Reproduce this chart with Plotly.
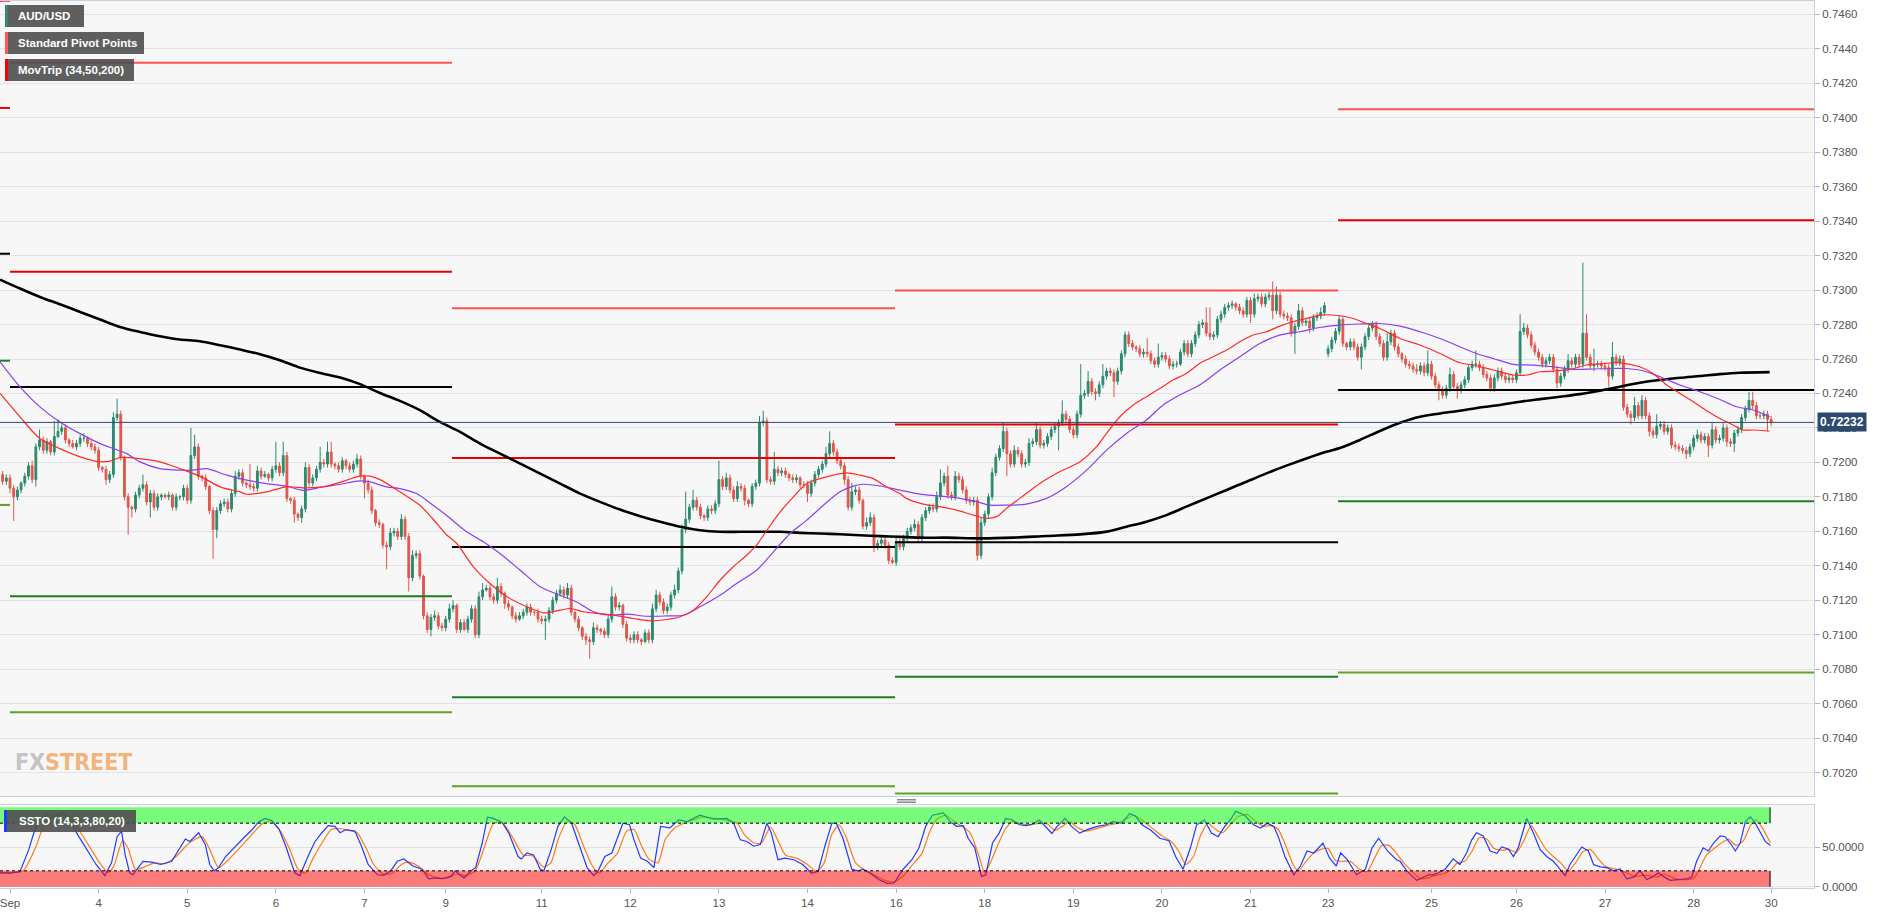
import plotly.graph_objects as go

# ---------------- DATA ----------------
PRICE_BASE = 0.7          # prices below are pips above 0.7000
PIP = 0.0001
FIRST_INDEX = -2          # hour index of first candle (0 = Mon 3 Sep 00:00)
FIRST_OPEN = 193
GAP_OPENS = {357: 263}

CLOSE = [
    189, 191,
    185, 180, 184, 188, 192, 198, 190, 209, 213, 207, 212, 206, 215, 218, 220, 213, 211, 209, 211, 214, 214, 211, 209, 207,
    197, 196, 190, 193, 226, 228, 203, 180, 174, 173, 181, 185, 187, 177, 182, 174, 180, 181, 180, 181, 174, 180, 180, 185,
    178, 204, 209, 192, 191, 186, 172, 161, 172, 176, 177, 173, 182, 192, 194, 188, 187, 186, 185, 195, 192, 193, 191, 196,
    198, 194, 204, 179, 178, 170, 168, 173, 197, 188, 191, 196, 200, 199, 206, 199, 198, 196, 201, 198, 196, 199, 202, 192,
    188, 184, 172, 165, 164, 152, 151, 159, 160, 157, 167, 157, 133, 146, 147, 134, 111, 103, 110, 111, 105, 104, 109, 115,
    117, 103, 107, 103, 109, 115, 100, 122, 126, 127, 122, 120, 128, 124, 118, 116, 111, 109, 111, 113, 116, 113, 113, 109,
    108, 109, 114, 120, 124, 126, 123, 127, 113, 109, 104, 99, 97, 96, 104, 103, 102, 100, 109, 122, 116, 117, 106, 98,
    97, 100, 97, 96, 101, 97, 115, 123, 119, 114, 116, 123, 126, 137, 161, 167, 174, 178, 174, 169, 168, 173, 172, 176,
    190, 186, 191, 184, 179, 186, 185, 178, 176, 186, 188, 223, 224, 190, 189, 196, 194, 195, 193, 191, 190, 191, 187, 187,
    182, 188, 193, 196, 199, 205, 211, 206, 201, 198, 190, 174, 183, 184, 178, 163, 165, 168, 151, 153, 155, 152, 143, 142,
    154, 151, 156, 160, 162, 164, 156, 168, 172, 174, 173, 180, 188, 192, 181, 180, 192, 190, 184, 178, 177, 178, 146, 165,
    170, 180, 194, 203, 208, 218, 205, 199, 207, 205, 199, 200, 211, 212, 219, 210, 211, 215, 219, 221, 223, 228, 225, 219,
    216, 228, 239, 240, 247, 241, 240, 245, 250, 253, 252, 247, 253, 263, 274, 269, 267, 266, 263, 264, 263, 259, 257, 261,
    262, 260, 256, 257, 257, 264, 269, 263, 269, 274, 280, 281, 275, 273, 274, 283, 286, 290, 291, 292, 290, 288, 286, 294,
    286, 295, 296, 292, 296, 297, 288, 297, 286, 285, 284, 275, 279, 288, 281, 282, 278, 284, 285, 287, 291, 266, 271, 276,
    283, 269, 267, 270, 267, 261, 267, 273, 278, 280, 273, 269, 261, 270, 275, 267, 263, 260, 257, 256, 254, 253, 256, 252,
    257, 250, 245, 242, 239, 243, 251, 244, 242, 245, 248, 255, 257, 257, 255, 251, 249, 243, 249, 253, 250, 248, 249, 248,
    252, 276, 278, 274, 268, 264, 261, 257, 259, 261, 254, 246, 250, 254, 259, 257, 261, 257, 275, 261, 256, 257, 257, 256,
    255, 250, 261, 258, 260, 232, 228, 226, 233, 227, 236, 227, 218, 216, 221, 222, 218, 220, 210, 209, 208, 207, 205, 209,
    214, 216, 213, 215, 210, 219, 213, 214, 220, 212, 211, 217, 219, 226, 231, 236, 233, 227, 227, 228, 225, 223,
]

UPPER_WICK = [
    2, 2,
    2, 2, 2, 1, 2, 2, 3, 2, 6, 2, 2, 1, 9, 7, 2, 2, 1, 2, 2, 2, 3, 1, 2, 2,
    2, 1, 2, 2, 3, 9, 2, 1, 2, 1, 2, 2, 6, 2, 2, 2, 2, 1, 1, 2, 1, 2, 1, 2,
    2, 16, 7, 2, 1, 2, 1, 2, 2, 2, 2, 2, 2, 3, 2, 2, 1, 12, 2, 3, 2, 2, 1, 2,
    14, 2, 8, 2, 1, 2, 1, 2, 3, 2, 2, 2, 9, 2, 6, 6, 1, 2, 2, 1, 2, 2, 3, 2,
    1, 2, 2, 1, 2, 1, 2, 3, 2, 2, 3, 2, 2, 3, 2, 2, 1, 2, 2, 3, 2, 2, 2, 3,
    3, 1, 2, 2, 2, 2, 2, 3, 4, 2, 2, 2, 5, 2, 1, 2, 1, 2, 2, 2, 2, 2, 1, 2,
    2, 2, 2, 2, 2, 3, 2, 3, 2, 1, 2, 1, 2, 2, 3, 2, 1, 2, 2, 6, 2, 2, 1, 2,
    2, 2, 2, 1, 2, 2, 3, 3, 2, 2, 2, 2, 3, 2, 3, 16, 2, 6, 2, 2, 1, 2, 2, 2,
    11, 2, 3, 2, 2, 3, 2, 2, 1, 2, 2, 4, 6, 2, 2, 10, 2, 2, 2, 1, 2, 2, 1, 2,
    2, 2, 2, 2, 2, 4, 7, 2, 2, 1, 2, 2, 5, 2, 2, 1, 3, 3, 2, 2, 2, 2, 2, 2,
    3, 2, 2, 2, 2, 3, 2, 2, 2, 2, 2, 3, 8, 2, 6, 2, 3, 2, 2, 2, 2, 2, 2, 3,
    2, 2, 3, 2, 2, 5, 2, 2, 3, 2, 2, 2, 3, 2, 4, 2, 2, 2, 2, 2, 2, 8, 2, 2,
    2, 2, 18, 2, 6, 2, 2, 2, 7, 2, 2, 2, 2, 2, 2, 2, 2, 1, 2, 2, 8, 2, 2, 8,
    2, 2, 2, 2, 2, 2, 2, 2, 2, 2, 2, 2, 9, 15, 2, 2, 2, 2, 2, 2, 1, 2, 2, 2,
    2, 3, 2, 2, 2, 2, 8, 5, 2, 2, 2, 2, 2, 4, 2, 2, 2, 2, 2, 3, 2, 2, 2, 2,
    2, 2, 1, 2, 2, 2, 2, 2, 2, 2, 2, 2, 2, 5, 2, 2, 2, 1, 2, 2, 2, 3, 2, 2,
    8, 2, 2, 2, 2, 2, 4, 2, 2, 2, 2, 2, 2, 8, 2, 2, 2, 2, 2, 2, 2, 2, 2, 2,
    2, 10, 3, 2, 2, 2, 2, 2, 2, 2, 2, 2, 2, 2, 4, 2, 2, 2, 41, 11, 2, 9, 2, 2,
    2, 2, 9, 2, 2, 2, 2, 2, 5, 2, 3, 2, 2, 2, 7, 2, 2, 2, 2, 2, 2, 2, 2, 2,
    2, 3, 2, 2, 2, 4, 2, 2, 3, 2, 2, 2, 2, 2, 2, 5, 5, 2, 2, 2, 2, 2,
]

LOWER_WICK = [
    2, 2,
    3, 14, 2, 2, 2, 2, 2, 4, 2, 2, 2, 2, 2, 1, 2, 2, 2, 1, 2, 2, 2, 2, 2, 2,
    2, 2, 3, 2, 2, 2, 2, 2, 16, 5, 2, 2, 2, 2, 9, 2, 2, 2, 1, 2, 2, 2, 2, 2,
    2, 2, 2, 2, 2, 2, 2, 17, 5, 2, 2, 2, 2, 2, 2, 2, 2, 2, 2, 2, 2, 1, 2, 2,
    2, 2, 2, 2, 2, 5, 2, 3, 2, 2, 2, 2, 2, 2, 2, 2, 2, 2, 2, 2, 2, 2, 2, 2,
    9, 2, 2, 2, 2, 2, 13, 2, 2, 2, 2, 2, 8, 2, 2, 2, 2, 2, 4, 2, 2, 2, 2, 2,
    2, 2, 2, 1, 2, 2, 2, 2, 2, 1, 2, 2, 2, 2, 3, 2, 2, 2, 1, 2, 2, 2, 2, 2,
    2, 11, 2, 2, 2, 2, 2, 2, 2, 2, 2, 2, 3, 10, 2, 2, 2, 2, 2, 2, 2, 2, 2, 2,
    2, 2, 2, 2, 1, 2, 2, 2, 2, 2, 2, 2, 2, 2, 2, 2, 2, 2, 2, 2, 2, 2, 2, 2,
    2, 2, 2, 2, 2, 2, 2, 3, 2, 2, 2, 2, 2, 2, 2, 2, 2, 2, 2, 2, 2, 2, 2, 2,
    5, 2, 2, 2, 2, 2, 2, 2, 2, 2, 3, 2, 2, 2, 2, 2, 2, 2, 3, 2, 2, 2, 2, 1,
    2, 2, 2, 2, 2, 2, 2, 2, 2, 2, 2, 2, 2, 2, 2, 2, 2, 2, 2, 2, 2, 2, 3, 2,
    2, 2, 2, 2, 2, 2, 13, 2, 2, 2, 2, 2, 2, 2, 2, 2, 2, 2, 2, 2, 14, 2, 2, 2,
    2, 2, 2, 2, 2, 2, 4, 2, 2, 2, 2, 9, 2, 2, 2, 2, 2, 2, 2, 2, 2, 2, 2, 2,
    2, 2, 2, 2, 2, 1, 2, 2, 2, 2, 2, 2, 2, 2, 2, 2, 2, 2, 2, 2, 2, 2, 2, 2,
    5, 2, 2, 2, 2, 2, 5, 2, 2, 2, 2, 2, 12, 2, 2, 2, 3, 2, 2, 2, 2, 2, 2, 2,
    2, 2, 2, 2, 2, 2, 7, 2, 2, 2, 2, 2, 2, 2, 2, 2, 2, 2, 2, 2, 2, 2, 2, 2,
    2, 2, 2, 6, 2, 2, 2, 2, 5, 2, 2, 2, 2, 2, 2, 2, 2, 2, 2, 2, 2, 2, 2, 2,
    2, 2, 2, 2, 2, 2, 2, 2, 2, 2, 2, 3, 2, 2, 2, 2, 2, 2, 2, 2, 2, 3, 2, 2,
    2, 6, 2, 2, 2, 2, 2, 4, 2, 2, 2, 2, 3, 2, 2, 2, 2, 2, 2, 2, 2, 2, 3, 2,
    2, 2, 2, 2, 7, 2, 2, 2, 2, 3, 2, 5, 2, 2, 2, 2, 2, 2, 2, 2, 7, 2,
]

LAST_PRICE = 0.72232

# Moving averages (hour index, pips above 0.7000)
MA34 = [(-2.7, 240), (2.7, 226.4), (8.1, 213.8), (13.5, 208), (19, 203.2), (24.4, 200.3), (27.1, 200.7), (29.8, 202.8),
        (35.2, 202.2), (40.6, 200.3), (46, 196.4), (51.4, 192), (56.9, 185.8), (62.3, 182.9), (64.1, 181.5), (69.5, 182.9),
        (74.9, 185.8), (80.3, 185.2), (85.7, 186.2), (91.2, 189.7), (94.8, 192), (97.5, 192), (100.2, 190), (105.6, 182.9),
        (111, 175.1), (114.6, 167), (118.2, 158), (121, 152.9), (125.5, 139.4), (130, 129.7), (134.6, 122), (140, 116.2),
        (144.5, 112.7), (149, 114.2), (151.7, 115.2), (155.3, 113.3), (158.9, 112.3), (163.4, 111.3), (168.8, 109.4),
        (173.4, 108), (177.9, 108.8), (181.5, 110.4), (185.1, 114.2), (188.7, 122), (192.3, 131.6), (195.9, 139.4),
        (199.5, 146.1), (202.2, 152), (205, 160.6), (208.6, 171.3), (212.2, 180), (215.8, 187.7), (219.4, 190.6),
        (223, 192.6), (226.6, 193.9), (230.2, 192.6), (233.8, 190.6), (237.4, 185.8), (241, 181.9), (242.8, 179.1),
        (247.3, 175.8), (251.8, 174.3), (256.4, 172.3), (260.9, 169.4), (264.5, 167.5), (267.2, 168.5), (269.9, 173.3),
        (273.5, 179.1), (278.9, 187.8), (284.3, 194.6), (289.8, 200.4), (294.3, 209.1), (297, 216.8), (300.6, 226.5),
        (304.2, 233.3), (307.8, 238.1), (311.4, 242.9), (315, 247.8), (318.6, 251.6), (322.2, 257.4), (325.9, 261.3),
        (329.5, 265.2), (333.1, 270), (336.7, 273.9), (340.3, 275.8), (343.9, 279.1), (347.5, 281.6), (351.1, 283.5),
        (354.7, 285.5), (360.2, 285.1), (363.8, 283.5), (367.4, 280.6), (371, 277.7), (376.5, 271.9), (381.9, 268.1),
        (387.3, 263.2), (392.7, 257.8), (396.3, 256.5), (401.7, 253.6), (407.1, 250.7), (410.8, 250.7), (414.4, 252.6),
        (418, 253), (422.5, 254), (427, 256.5), (431.5, 257.4), (436, 257.8), (441.4, 255.5), (445, 251.6), (448.7, 244.9),
        (452.3, 240), (455.9, 235.2), (459.5, 230), (463.1, 225.5), (466.7, 221.7), (469.4, 218.8), (472.1, 218.8),
        (476.6, 218.2)]

MA50 = [(-2.7, 258.3), (2.7, 243.8), (8.1, 232.2), (13.5, 223.5), (19, 216.7), (24.4, 210.9), (28, 208), (31.6, 205.1),
        (35.2, 200.3), (40.6, 196.4), (46, 195.5), (49.6, 195.5), (53.2, 196.4), (58.7, 192.6), (64.1, 189.7), (69.5, 187.7),
        (74.9, 186.2), (79.4, 183.8), (83.9, 185.4), (89.4, 187.3), (94.8, 189.3), (97.5, 188.7), (102, 185.8), (105.6, 184.8),
        (110.1, 181.9), (114.6, 175.1), (118.2, 169.3), (123.7, 159.7), (128.2, 153.9), (132.7, 147.1), (138.2, 137.4),
        (143.6, 127.8), (149, 122.9), (153.5, 119), (158, 113.3), (162.5, 111.3), (167, 111.9), (172.5, 110.7),
        (177.9, 110.9), (182.4, 111.3), (186.9, 116.2), (192.3, 122.9), (196.8, 129.7), (202.2, 137.4), (206.8, 148.1),
        (211.3, 158.7), (215.8, 166.5), (220.3, 175.1), (224.8, 182.9), (228.4, 186.2), (231.1, 187.3), (235.6, 186.3),
        (241, 183.9), (246.4, 181.6), (251.8, 180.5), (257.3, 179.1), (261.8, 177.2), (265.4, 175.2), (269.9, 175.2),
        (275.3, 175.8), (280.7, 179.1), (286.1, 185.9), (291.6, 195.5), (297, 207.1), (302.4, 216.8), (307.8, 224.6),
        (312.3, 233.3), (316.8, 239.1), (322.2, 244.9), (327.7, 253.6), (333.1, 261.3), (338.5, 269), (343.9, 273.9),
        (349.3, 275.8), (354.7, 278.3), (360.2, 279.7), (365.6, 280.3), (371, 280.6), (376.5, 279.1), (381.9, 275.8),
        (387.3, 271.9), (392.7, 267.1), (397.2, 263.2), (401.7, 260.3), (407.1, 256.9), (412.6, 256.5), (418, 255.5),
        (423.4, 254), (428.8, 254.2), (434.2, 254.5), (437.8, 254.5), (442.3, 253.2), (446.9, 249.7), (452.3, 244.9),
        (457.7, 241), (463.1, 236.5), (467.6, 232.3), (472.1, 230.4), (476.6, 226.5)]

MA200 = [(-2.7, 306.1), (2.7, 300.9), (8.1, 296), (13.5, 291.8), (19, 287.3), (24.4, 282.9), (29.8, 278.6), (35.2, 275.7),
         (40.6, 273.2), (46, 271.3), (51.4, 270.3), (56.9, 268), (62.3, 265.5), (67.7, 262.8), (73.1, 259.3), (78.5, 255),
         (84, 251.9), (89.4, 249.2), (94.8, 245.4), (100.2, 240.3), (105.6, 235.7), (111, 230.3), (116.4, 223.5),
         (121.9, 217.7), (127.3, 210.9), (132.7, 205.1), (138.2, 199.3), (143.6, 193.5), (149, 187.7), (154.4, 181.9),
         (159.8, 177.1), (165.2, 172.6), (170.7, 168.8), (176.1, 165.5), (181.5, 162.6), (186.9, 160.6), (192.3, 159.7),
         (197.7, 159.7), (203.1, 159.7), (208.6, 159.7), (214, 159.1), (219.4, 158.7), (224.8, 158.3), (230.2, 157.7),
         (235.6, 157.2), (241, 156.8), (246.4, 156.3), (253.7, 156.3), (262.7, 155.9), (271.7, 156.3), (280.7, 157.3),
         (289.8, 158.2), (297, 159.8), (302.4, 162.7), (307.8, 165.6), (313.2, 169.4), (318.6, 174.3), (324, 179.1),
         (329.5, 184), (334.9, 188.8), (340.3, 193.6), (345.7, 198.1), (351.1, 202.3), (356.5, 206.2), (360.2, 208.3),
         (365.6, 213), (371, 218.2), (376.5, 223), (381.9, 226.5), (387.3, 228.4), (392.7, 230), (398.1, 231.9),
         (403.5, 233.3), (409, 235.2), (414.4, 236.7), (419.8, 238.1), (425.2, 239.6), (430.6, 241.6), (436, 243.9),
         (441.4, 246.2), (446.9, 247.8), (452.3, 249.1), (457.7, 250.1), (463.1, 251.2), (468.5, 252), (476.6, 252.4)]

# Weekly standard pivot points (segment boundaries in hour index; levels per segment)
PIVOT_BOUNDS = [-2.71, 0, 119.7, 239.7, 359.7, 488.6]
PIVOT_R2 = [0.74678, 0.74320, 0.72895, 0.72998, 0.74050]
PIVOT_R1 = [0.74057, 0.73107, 0.72025, 0.72220, 0.73405]
PIVOT_P = [0.73211, 0.72437, 0.71509, 0.71537, 0.72420]
PIVOT_S1 = [0.72590, 0.71223, 0.70637, 0.70756, 0.71774]
PIVOT_S2 = [0.71753, 0.70550, 0.70121, 0.70078, 0.70781]

# Slow stochastic (14,3,3): %K (blue) and %D (orange)
STOCH_K = [(-2.7, 17.5), (0, 17), (2.7, 19), (5.1, 47), (6.4, 67), (8, 85), (10, 92), (12, 88), (14, 94), (16, 86),
           (18.4, 65), (21, 45), (23.3, 28), (25.7, 14), (27.5, 30), (29, 63), (30.2, 70), (31.2, 40), (32.4, 17.5),
           (33.3, 15), (36, 32), (38.4, 31), (40.8, 28), (43.8, 32), (45.7, 47), (47.5, 60), (48.7, 57), (51.1, 68),
           (52.9, 53), (54.1, 28), (55.3, 20), (56.5, 24), (58.4, 38), (60.2, 47), (63.2, 61), (65.6, 72), (67.4, 82),
           (69.2, 86), (71, 83), (72.9, 72), (74.7, 51), (77.1, 17.5), (78.5, 14), (80.7, 38), (82.5, 56), (84.3, 67),
           (86.2, 77), (88, 76), (89.4, 68), (91, 72), (93.4, 70), (95.2, 51), (97, 28), (99.5, 15), (101.3, 14.5),
           (103.1, 20), (104.9, 32), (106.7, 35), (109.1, 26), (111.6, 22), (113.4, 10), (115.2, 11), (117, 10),
           (119.4, 13), (120.6, 20), (121.8, 15), (123, 11), (124.9, 20), (126.1, 24), (127.9, 55), (129.3, 87.5),
           (130.9, 86), (133.3, 81), (135.1, 67.5), (137.6, 38), (138.5, 35), (140, 42.5), (141.8, 40), (143.6, 22),
           (144.6, 20), (146.6, 47), (148.4, 76), (150.2, 88), (152.1, 80), (153.9, 55), (156.3, 24), (158.1, 14),
           (159.3, 20), (161.1, 38), (163, 42.5), (166, 80), (167.8, 78), (169, 59), (170.8, 36), (172.6, 32),
           (174.4, 24), (176.2, 76), (178.7, 74), (181.1, 84), (183.5, 82), (185.9, 88), (186.9, 90), (190.5, 85),
           (194.1, 86), (196, 80), (197.8, 59), (199.6, 57), (201.4, 51), (203.2, 53), (205, 80), (206.2, 67.5),
           (208, 34), (209.9, 36), (212.3, 34), (214.7, 28), (217.1, 17), (218.9, 19.5), (220.7, 51), (222.6, 80),
           (223.8, 80), (225.6, 61), (228, 22), (229.8, 20), (231, 22), (232.8, 17.5), (235.3, 9), (237.7, 4),
           (239.5, 5), (241.9, 22), (244.3, 34), (246.2, 49), (248, 76), (249.8, 90), (252.8, 93), (254.6, 82),
           (256.4, 76), (258.2, 77), (259.5, 61), (261.3, 49), (263.1, 13), (264.3, 15), (266.1, 55), (267.9, 67.5),
           (269.7, 86), (271.5, 84), (273.4, 78), (275.2, 77), (277, 79), (278.8, 84), (280.2, 77), (282.2, 67),
           (283.6, 76), (285.8, 86), (287.5, 76), (289.7, 67.5), (292.1, 72.5), (294.5, 76), (296.9, 78), (298.7, 82),
           (301.2, 80), (303.2, 92), (304.8, 89), (306.6, 78), (309, 71), (311.4, 61), (313.9, 58), (315.7, 38),
           (317.7, 22), (319.7, 49), (321.4, 78), (323.5, 84), (325.4, 67.5), (327.2, 63), (329, 76), (330.8, 86),
           (332, 95), (334.4, 90), (336.8, 78), (338.7, 74), (340.5, 80), (342.3, 76), (343.5, 63), (345.3, 38),
           (347.7, 15), (349.5, 26), (351.3, 45), (353.1, 42.5), (355.6, 55), (357.4, 36), (359.2, 26), (360.4, 42.5),
           (362.2, 34), (364.7, 15), (367.1, 22), (368.9, 49), (370.7, 61), (373.1, 45), (375.5, 34), (376.5, 32),
           (378.3, 20), (381, 8), (382.8, 12), (384.2, 15), (385.5, 15), (386.9, 17.5), (388.7, 22), (390.9, 35),
           (392.7, 28), (394.5, 42.5), (395.9, 59), (397.2, 68), (399, 64), (400.9, 45), (402.7, 42), (404, 50),
           (405.8, 47.5), (407.2, 38), (408.5, 49), (410.8, 86), (412.6, 67.5), (414.4, 47), (416.2, 38), (418, 32),
           (419.8, 22), (421.2, 14), (422.5, 28), (423.9, 38), (425.7, 50), (427.5, 45), (428.9, 28), (430.7, 25),
           (432.5, 24), (434.3, 20), (436.1, 22.5), (437.9, 10), (439.7, 12), (441.5, 20), (443.3, 9), (444.7, 12),
           (446.5, 17.5), (447.8, 13), (449.6, 8), (451.9, 9), (454.1, 10), (455.5, 12), (456.8, 32), (458.6, 49),
           (460, 45), (461.4, 55), (463.2, 64), (464.5, 63), (465.9, 55), (467.3, 45), (468.6, 55), (470, 82),
           (471.4, 88), (472.7, 80), (474.1, 67.5), (475.4, 57), (476.8, 52)]

STOCH_D = [(-2.7, 18), (3.5, 20), (7, 50), (9, 75), (12, 88), (15, 90), (17, 82), (20, 62), (24, 32), (26.5, 18),
           (28, 25), (30.5, 58), (32, 48), (34, 22), (36.5, 25), (39, 30), (42, 29), (45, 38), (48.5, 55), (52, 63),
           (54, 48), (56.5, 24), (59, 33), (62, 48), (65, 63), (68, 78), (70.5, 83), (73, 72), (75.5, 50), (78, 22),
           (80, 17), (82, 35), (84.5, 55), (87, 72), (89.5, 73), (91.5, 71), (94, 68), (96.5, 48), (98.5, 28),
           (101, 16), (103.5, 17), (106, 28), (108, 31), (110.5, 26), (113.5, 15), (116, 11), (118.5, 11), (121, 16),
           (123.5, 14), (126, 20), (128.5, 50), (131, 80), (133.5, 80), (136, 63), (139, 40), (141.5, 39), (144.5, 25),
           (146.5, 30), (148.5, 60), (151, 83), (153, 78), (155, 55), (157.5, 28), (159.5, 17), (162, 30), (164.5, 42),
           (167, 70), (169, 72), (171, 52), (173, 35), (175.5, 30), (177.5, 60), (180, 74), (182.5, 80), (185, 84),
           (187.5, 88), (191, 86), (195, 83), (197, 80), (199, 65), (201.5, 55), (203.5, 55), (206, 75), (208, 58),
           (210, 40), (213, 36), (216, 28), (218.5, 19), (220.5, 30), (222.5, 65), (224.5, 78), (226.5, 62), (229, 30),
           (231.5, 21), (234, 15), (237, 8), (239.5, 6), (242, 14), (244.5, 28), (247, 42), (249, 68), (251, 85),
           (253.5, 90), (255.5, 83), (257.5, 77), (260, 68), (262, 45), (264, 18), (265.5, 30), (267.5, 52),
           (269.5, 72), (271.5, 82), (274, 79), (276.5, 78), (279, 80), (281, 79), (283, 71), (285, 76), (287, 82),
           (289, 75), (291.5, 70), (295, 74), (298, 78), (300, 80), (302.5, 86), (304.5, 90), (306.5, 84), (309, 75),
           (312, 64), (314.5, 57), (316.5, 45), (318.5, 28), (320.5, 38), (322.5, 65), (324.5, 80), (326.5, 72),
           (328.5, 68), (330.5, 78), (332.5, 88), (335, 91), (337.5, 82), (339.5, 76), (341.5, 77), (343.5, 72),
           (345.5, 52), (347.5, 28), (349, 20), (351, 32), (353, 42), (355, 47), (357, 48), (359, 33), (361, 32),
           (363, 32), (365.5, 22), (367.5, 19), (369.5, 35), (371.5, 52), (373.5, 52), (375.5, 42), (377.5, 30),
           (380, 18), (382, 10), (384, 11), (386, 14), (388, 16), (390, 20), (392, 30), (394, 32), (396, 45),
           (398, 62), (400, 60), (402, 48), (404, 46), (406, 47), (408, 43), (410, 58), (412, 77), (414, 62),
           (416, 47), (418, 38), (420, 30), (422, 20), (424, 30), (426, 44), (428, 47), (430, 36), (432, 26),
           (434, 23), (436, 21), (438, 17), (440, 13), (442, 14), (444, 14), (446, 12), (448, 16), (450, 12),
           (452, 9), (454, 9), (456, 10), (457.5, 22), (459.5, 40), (461.5, 48), (463.5, 55), (465.5, 60),
           (467.5, 52), (469.5, 58), (471.5, 78), (473, 84), (474.5, 75), (476.8, 55)]

STOCH_UPPER, STOCH_LOWER = 80, 20
STOCH_BAND_END = 476.7

XTICK_POS = [0, 24, 48, 72, 96, 118, 144, 168, 192, 216, 240, 264, 288, 312, 336, 357, 385, 408, 432, 456, 477]
XTICK_TEXT = ["Sep", "4", "5", "6", "7", "9", "11", "12", "13", "14", "16", "18", "19", "20", "21", "23",
              "25", "26", "27", "28", "30"]

# ---------------- BUILD ----------------
X_RANGE = [-2.71, 488.6]
Y_RANGE = [0.700637, 0.746778]
OSC_RANGE = [-1.64, 102.9]

def px(v):
    return PRICE_BASE + v * PIP

idx = list(range(FIRST_INDEX, FIRST_INDEX + len(CLOSE)))
opens, highs, lows, closes = [], [], [], []
prev = FIRST_OPEN
for k, i in enumerate(idx):
    o = GAP_OPENS.get(i, prev)
    c = CLOSE[k]
    opens.append(px(o))
    closes.append(px(c))
    highs.append(px(max(o, c) + UPPER_WICK[k]))
    lows.append(px(min(o, c) - LOWER_WICK[k]))
    prev = c

GREEN = "#2b8a6e"
RED = "#e0574b"
FONT = "Liberation Sans, Arial, sans-serif"
BORDER = "#c9d0e0"

fig = go.Figure()

fig.add_trace(go.Candlestick(
    x=idx, open=opens, high=highs, low=lows, close=closes, xaxis="x", yaxis="y",
    increasing=dict(line=dict(color=GREEN, width=1), fillcolor=GREEN),
    decreasing=dict(line=dict(color=RED, width=1), fillcolor=RED),
    whiskerwidth=0, showlegend=False, hoverinfo="skip"))

def seg_trace(levels, color, width=2):
    xs, ys = [], []
    for k, lv in enumerate(levels):
        xs += [PIVOT_BOUNDS[k], PIVOT_BOUNDS[k + 1], None]
        ys += [lv, lv, None]
    return go.Scatter(x=xs, y=ys, mode="lines", line=dict(color=color, width=width),
                      xaxis="x", yaxis="y", showlegend=False, hoverinfo="skip")

fig.add_trace(seg_trace(PIVOT_R2, "#ff5050"))
fig.add_trace(seg_trace(PIVOT_R1, "#e80000"))
fig.add_trace(seg_trace(PIVOT_P, "#000000"))
fig.add_trace(seg_trace(PIVOT_S1, "#1e7d23"))
fig.add_trace(seg_trace(PIVOT_S2, "#5fa31e"))

for data, color, width in [(MA200, "#000000", 2.6), (MA50, "#8a3ff2", 1.2), (MA34, "#ff2a2a", 1.2)]:
    fig.add_trace(go.Scatter(x=[p[0] for p in data], y=[px(p[1]) for p in data], mode="lines",
                             line=dict(color=color, width=width, shape="spline", smoothing=0.8),
                             xaxis="x", yaxis="y", showlegend=False, hoverinfo="skip"))

fig.add_trace(go.Scatter(x=[p[0] for p in STOCH_D], y=[p[1] for p in STOCH_D], mode="lines",
                         line=dict(color="#ff7a1a", width=1.2, shape="spline", smoothing=0.6),
                         xaxis="x2", yaxis="y2", showlegend=False, hoverinfo="skip"))
fig.add_trace(go.Scatter(x=[p[0] for p in STOCH_K], y=[p[1] for p in STOCH_K], mode="lines",
                         line=dict(color="#1f3cff", width=1.2),
                         xaxis="x2", yaxis="y2", showlegend=False, hoverinfo="skip"))

# ------------- layout helpers (pixel -> paper) -------------
PW, PH, TOP = 1814.0, 887.0, 1.0
def pxx(p):
    return p / PW
def pxy(p):
    return (TOP + PH - p) / PH

shapes = []
annotations = []

# stochastic bands
shapes.append(dict(type="rect", xref="x2", yref="y2", x0=X_RANGE[0], x1=STOCH_BAND_END, y0=STOCH_UPPER, y1=100,
                   fillcolor="rgba(0,255,0,0.5)", line=dict(width=0), layer="above"))
shapes.append(dict(type="rect", xref="x2", yref="y2", x0=X_RANGE[0], x1=STOCH_BAND_END, y0=0, y1=STOCH_LOWER,
                   fillcolor="rgba(255,0,0,0.5)", line=dict(width=0), layer="above"))
for lv in (STOCH_UPPER, STOCH_LOWER):
    shapes.append(dict(type="line", xref="x2", yref="y2", x0=X_RANGE[0], x1=STOCH_BAND_END, y0=lv, y1=lv,
                       line=dict(color="#000000", width=1, dash="dot"), layer="above"))
for a, b in ((STOCH_UPPER, 100), (0, STOCH_LOWER)):
    shapes.append(dict(type="line", xref="x2", yref="y2", x0=STOCH_BAND_END, x1=STOCH_BAND_END, y0=a, y1=b,
                       line=dict(color="#000000", width=1), layer="above"))

# current price line
shapes.append(dict(type="line", xref="paper", yref="y", x0=0, x1=1, y0=LAST_PRICE, y1=LAST_PRICE,
                   line=dict(color="#2c4a6e", width=1), layer="above"))
annotations.append(dict(xref="paper", yref="y", x=pxx(1817), y=LAST_PRICE, xanchor="left", yanchor="middle",
                        text="<b>0.72232</b>", showarrow=False, bgcolor="#2c4a6e", borderpad=2,
                        font=dict(family=FONT, size=12, color="white")))

# legend boxes
def label_box(x0, y0, x1, y1, stripe, text, text_x):
    shapes.append(dict(type="rect", xref="paper", yref="paper", x0=pxx(x0), x1=pxx(x1), y0=pxy(y1), y1=pxy(y0),
                       fillcolor="rgba(78,78,78,0.9)", line=dict(width=0), layer="above"))
    shapes.append(dict(type="rect", xref="paper", yref="paper", x0=pxx(x0), x1=pxx(x0 + 3), y0=pxy(y1), y1=pxy(y0),
                       fillcolor=stripe, line=dict(width=0), layer="above"))
    annotations.append(dict(xref="paper", yref="paper", x=pxx(text_x), y=pxy((y0 + y1) / 2), xanchor="left",
                            yanchor="middle", text="<b>%s</b>" % text, showarrow=False,
                            font=dict(family=FONT, size=11.5, color="white")))

label_box(5, 5, 84, 27, "#2e8b6e", "AUD/USD", 16)
label_box(5, 32, 144, 54, "#ff5a5a", "Standard Pivot Points", 16)
label_box(5, 59, 134, 81, "#ff0000", "MovTrip (34,50,200)", 16)
label_box(4, 810, 136, 832, "#1a3cff", "SSTO (14,3,3,80,20)", 17)

# watermark
annotations.append(dict(xref="paper", yref="paper", x=pxx(13), y=pxy(762), xanchor="left", yanchor="middle",
                        text="<b><span style='color:#c4c4c4'>FX</span><span style='color:#f2b47a'>STREET</span></b>",
                        showarrow=False, font=dict(family="DejaVu Sans Condensed, Liberation Sans Narrow, sans-serif",
                                                   size=23)))

# drag handle between panes
for yy in (799.5, 801, 802.5):
    shapes.append(dict(type="line", xref="paper", yref="paper", x0=pxx(897), x1=pxx(916), y0=pxy(yy), y1=pxy(yy),
                       line=dict(color="#888888", width=1)))

tickfont = dict(family=FONT, size=11.5, color="#555555")

fig.update_layout(
    width=1885, height=914, margin=dict(l=0, r=71, t=1, b=26),
    paper_bgcolor="white", plot_bgcolor="#f7f7f7", showlegend=False,
    xaxis=dict(domain=[0, 1], anchor="y", range=X_RANGE, showticklabels=False, showgrid=False, zeroline=False,
               showline=True, mirror=True, linecolor=BORDER, ticks="", rangeslider=dict(visible=False),
               automargin=False),
    yaxis=dict(domain=[pxy(796), 1], anchor="x", range=Y_RANGE, side="right", tick0=0.702, dtick=0.002,
               tickformat=".4f", showgrid=True, gridcolor="#e3e3e3", gridwidth=1, zeroline=False,
               ticks="outside", ticklen=5, tickcolor="#b5b5b5", showline=True, mirror=True, linecolor=BORDER,
               tickfont=tickfont, automargin=False),
    xaxis2=dict(domain=[0, 1], anchor="y2", range=X_RANGE, tickmode="array", tickvals=XTICK_POS,
                ticktext=XTICK_TEXT, ticks="outside", ticklen=4, tickcolor="#b5b5b5", showgrid=False,
                zeroline=False, showline=True, mirror=True, linecolor=BORDER, tickfont=tickfont, automargin=False,
                ticklabeloverflow="allow"),
    yaxis2=dict(domain=[0, pxy(805)], anchor="x2", range=OSC_RANGE, side="right", tickmode="array",
                tickvals=[0, 50], ticktext=["0.0000", "50.0000"], showgrid=True, gridcolor="#e3e3e3",
                zeroline=False, ticks="outside", ticklen=5, tickcolor="#b5b5b5", showline=True, mirror=True,
                linecolor=BORDER, tickfont=tickfont, automargin=False),
    shapes=shapes, annotations=annotations,
)

fig.write_html("out.html", config={"displayModeBar": False, "staticPlot": True},
               post_script="document.body.style.margin='0px';document.body.style.overflow='hidden';")
